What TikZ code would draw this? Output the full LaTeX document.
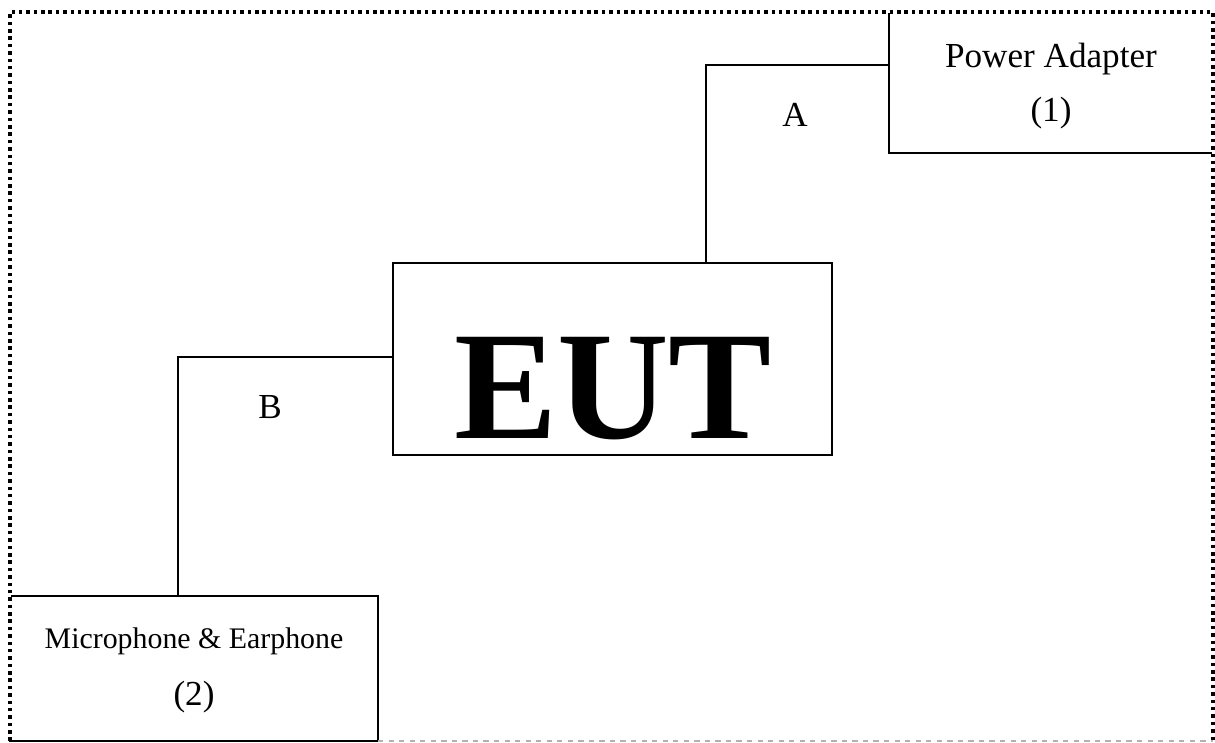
\documentclass[tikz,border=0pt]{standalone}
\usepackage{fontspec}
\setmainfont{Liberation Serif}
\usepackage{tikz}
\usetikzlibrary{positioning}
\tikzstyle{unitbox} = [rectangle, draw=black, line width=0.8pt, inner sep=0pt, align=center]
\tikzstyle{cable} = [draw=black, line width=0.8pt]
\tikzstyle{frame} = [draw=black, line width=2pt, dash pattern=on 2pt off 2.2pt]
\tikzstyle{tag} = [font=\fontsize{20}{24}\selectfont]

\begin{document}
\begin{tikzpicture}[x=0.02cm, y=-0.02cm]
\useasboundingbox (0,0) rectangle (1215,743);
%boxes
\node (eut) [unitbox, minimum width=8.78cm, minimum height=3.84cm] at (612.5,359) {};
\node (euttxt) at (613,389) {\fontsize{88}{88}\selectfont\bfseries EUT};
\node (pa) [unitbox, minimum width=6.48cm, minimum height=2.82cm] at (1051,82.5) {};
\node (patxt) [align=center] at (1051,86)
  {\fontsize{20}{24}\selectfont Power Adapter\\[12pt]\fontsize{20}{24}\selectfont (1)};
\node (mic) [unitbox, minimum width=7.36cm, minimum height=2.9cm] at (194,668.5) {};
\node (mictxt) [align=center] at (194,670)
  {\fontsize{17}{20}\selectfont Microphone \& Earphone\\[14pt]\fontsize{20}{24}\selectfont (2)};

%cables
\coordinate (abend) at (706,65);
\coordinate (bbend) at (178,357);
\draw [cable](eut.north -| abend) -- (abend) -- (pa.west |- abend);
\draw [cable](eut.west |- bbend) -- (bbend) -- (mic.north -| bbend);
\node (alabel) [tag] at (795,115) {A};
\node (blabel) [tag] at (270,407) {B};

%outline
\draw [white, line width=1.2pt](10,741) -- (10,12) -- (1213,12) -- (1213,741);
\draw [frame](10,741) -- (10,12) -- (1213,12) -- (1213,741);
\draw [gray!60, dashed, line width=0.6pt](378,741) -- (1213,741);
\end{tikzpicture}
\end{document}
